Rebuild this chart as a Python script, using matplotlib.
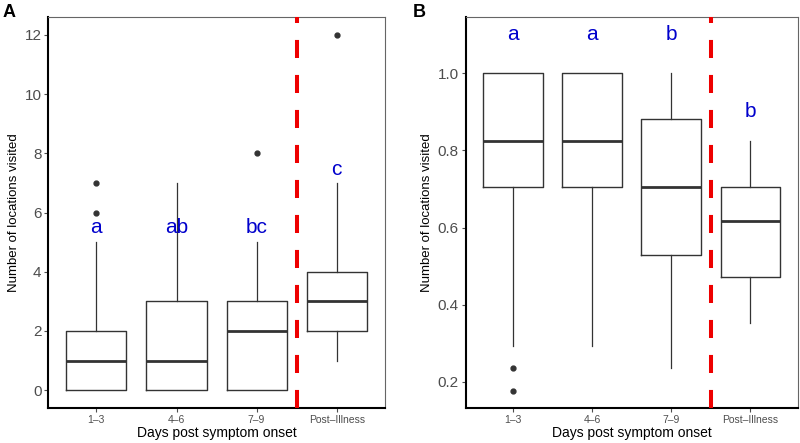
import matplotlib
matplotlib.use("Agg")
import matplotlib.pyplot as plt

plt.rcParams['font.family'] = ['Liberation Sans', 'DejaVu Sans']
plt.rcParams['lines.scale_dashes'] = False

categories = ["1\u20133", "4\u20136", "7\u20139", "Post\u2013Illness"]

# Panel A: number of locations visited
a_whislo = [0, 0, 0, 1]
a_q1 = [0, 0, 0, 2]
a_med = [1, 1, 2, 3]
a_q3 = [2, 3, 3, 4]
a_whishi = [5, 7, 5, 7]
a_fliers = [[6, 7], [], [8], [12]]
a_letters = ["a", "ab", "bc", "c"]
a_letter_y = [5.5, 5.5, 5.5, 7.45]

# Panel B: proportion
b_whislo = [0.294, 0.294, 0.235, 0.353]
b_q1 = [0.706, 0.706, 0.529, 0.471]
b_med = [0.824, 0.824, 0.706, 0.618]
b_q3 = [1.0, 1.0, 0.882, 0.706]
b_whishi = [1.0, 1.0, 1.0, 0.824]
b_fliers = [[0.235, 0.176], [], [], []]
b_letters = ["a", "a", "b", "b"]
b_letter_y = [1.1, 1.1, 1.1, 0.9]

fig = plt.figure(figsize=(8, 4.43), dpi=100)
axA = fig.add_axes([0.0604, 0.079, 0.4206, 0.8826])
axB = fig.add_axes([0.582, 0.079, 0.415, 0.8826])

box_col = "#333333"
tick_col = "#4D4D4D"


def draw(ax, whislo, q1, med, q3, whishi, fliers, letters, ly, ylim, yticks, yticklabels):
    stats = []
    for i in range(len(categories)):
        stats.append(dict(whislo=whislo[i], q1=q1[i], med=med[i], q3=q3[i],
                          whishi=whishi[i], fliers=fliers[i], label=categories[i]))
    pos = list(range(1, len(categories) + 1))
    ax.bxp(stats, positions=pos, widths=0.75, showcaps=False,
           boxprops=dict(color=box_col, linewidth=1.0),
           whiskerprops=dict(color=box_col, linewidth=0.9),
           medianprops=dict(color=box_col, linewidth=2.0),
           flierprops=dict(marker='o', markerfacecolor=box_col, markeredgecolor=box_col,
                           markersize=3.5, linestyle='none'))
    for p, t, y in zip(pos, letters, ly):
        ax.text(p, y, t, color="#0000CC", fontsize=15, ha='center', va='center')
    ln = ax.axvline(3.5, color="#EE0000", linewidth=2.9, zorder=5)
    ln.set_dashes((13, 12.2))
    ax.set_xlim(0.4, 4.6)
    ax.set_ylim(*ylim)
    ax.set_xticks(pos)
    ax.set_xticklabels(categories, fontsize=7.5, color=tick_col)
    ax.set_yticks(yticks)
    ax.set_yticklabels(yticklabels, fontsize=11, color=tick_col)
    ax.tick_params(axis='both', color=tick_col, length=3, width=0.8, pad=2)
    ax.set_xlabel("Days post symptom onset", fontsize=10, labelpad=1)
    ax.set_ylabel("Number of locations visited", fontsize=9.5, labelpad=3)
    for s in ['top', 'right']:
        ax.spines[s].set_color("#666666")
        ax.spines[s].set_linewidth(0.8)
    for s in ['left', 'bottom']:
        ax.spines[s].set_color("black")
        ax.spines[s].set_linewidth(1.5)


draw(axA, a_whislo, a_q1, a_med, a_q3, a_whishi, a_fliers, a_letters, a_letter_y,
     (-0.6, 12.6), [0, 2, 4, 6, 8, 10, 12], ["0", "2", "4", "6", "8", "10", "12"])
draw(axB, b_whislo, b_q1, b_med, b_q3, b_whishi, b_fliers, b_letters, b_letter_y,
     (0.132, 1.146), [0.2, 0.4, 0.6, 0.8, 1.0], ["0.2", "0.4", "0.6", "0.8", "1.0"])

fig.text(0.003, 0.99, "A", fontsize=13, fontweight='bold', ha='left', va='top')
fig.text(0.516, 0.99, "B", fontsize=13, fontweight='bold', ha='left', va='top')

fig.savefig("out.png", dpi=100)
